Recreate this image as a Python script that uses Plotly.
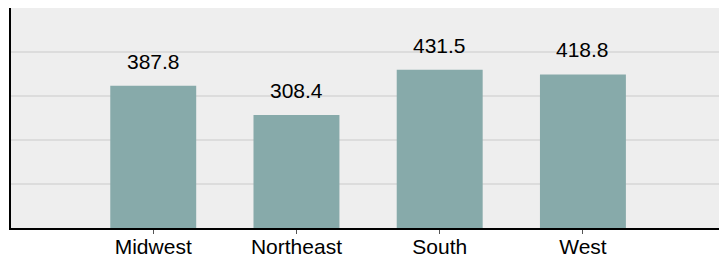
import plotly.graph_objects as go

regions = ["Midwest", "Northeast", "South", "West"]
values = [387.8, 308.4, 431.5, 418.8]
labels = ["387.8", "308.4", "431.5", "418.8"]

fig = go.Figure()
fig.add_trace(go.Bar(
    x=regions, y=values, width=0.6,
    marker=dict(color="#87aaaa", line=dict(width=0)),
    hoverinfo="skip",
))
for r, v, t in zip(regions, values, labels):
    fig.add_annotation(x=r, y=v, text=t, showarrow=False, yanchor="bottom",
                       yshift=11, font=dict(size=21, color="#000000",
                                            family="Liberation Sans, Arial, sans-serif"))

fig.update_layout(
    width=719, height=258,
    margin=dict(l=11, r=0, t=8, b=30, autoexpand=False),
    paper_bgcolor="#ffffff", plot_bgcolor="#eeeeee",
    showlegend=False,
    font=dict(family="Liberation Sans, Arial, sans-serif", size=21, color="#000000"),
    xaxis=dict(type="category", range=[-0.993, 3.95], showgrid=False, automargin=False,
               showline=True, linecolor="#000000", linewidth=2,
               ticks="outside", ticklen=4, tickcolor="#555555", tickwidth=1,
               ticklabelstandoff=-5, tickfont=dict(size=21)),
    yaxis=dict(range=[0, 600], dtick=120, showgrid=True, gridcolor="#dcdcdc",
               gridwidth=2, showticklabels=False, zeroline=False, automargin=False,
               showline=True, linecolor="#000000", linewidth=2, ticks=""),
)
fig.write_html("out.html",
               config={"displayModeBar": False, "staticPlot": True},
               post_script="document.body.style.margin='0';document.body.style.overflow='hidden';")
